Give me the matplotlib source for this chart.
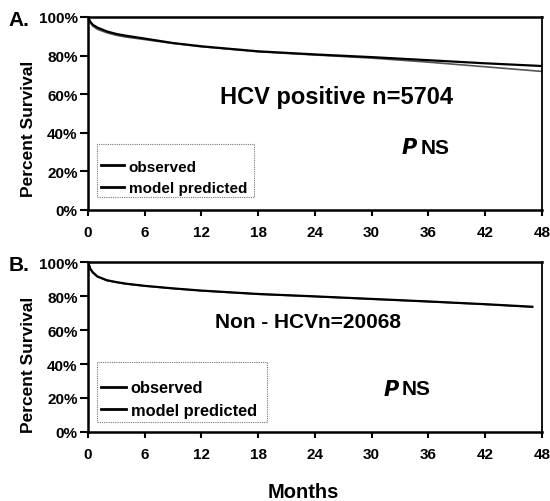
import matplotlib
matplotlib.use("Agg")
import matplotlib.pyplot as plt
from matplotlib.ticker import FuncFormatter
from matplotlib.patches import Rectangle

plt.rcParams['font.family'] = ['Liberation Sans', 'DejaVu Sans']
plt.rcParams['font.weight'] = 'bold'

months = [0, 0.25, 0.5, 1, 2, 3, 4, 6, 9, 12, 18, 24, 30, 36, 42, 48]
a_observed = [100, 97.5, 96.0, 94.5, 92.5, 91.2, 90.3, 88.8, 86.5, 84.8, 82.2, 80.6, 79.2, 77.6, 76.0, 74.6]
a_predicted = [100, 97.0, 95.3, 93.6, 91.8, 90.5, 89.6, 88.3, 86.3, 84.6, 82.0, 80.3, 78.7, 76.6, 74.2, 71.8]

months_b = [0, 0.25, 0.5, 1, 2, 3, 4, 6, 9, 12, 18, 24, 30, 36, 42, 47]
b_observed = [100, 96.0, 94.0, 91.5, 89.3, 88.2, 87.3, 86.0, 84.5, 83.2, 81.2, 79.8, 78.3, 76.8, 75.2, 73.7]
b_predicted = [100, 95.8, 93.8, 91.3, 89.1, 88.0, 87.1, 85.9, 84.4, 83.1, 81.1, 79.7, 78.2, 76.7, 75.1, 73.5]

xticks = [0, 6, 12, 18, 24, 30, 36, 42, 48]
yticks = [0, 20, 40, 60, 80, 100]

fig = plt.figure(figsize=(5.5, 5.02), dpi=100)
axA = fig.add_axes([0.16, 0.5797, 0.825, 0.3845])
axB = fig.add_axes([0.16, 0.1375, 0.825, 0.3385])

panels = [
    dict(ax=axA, mx=months, obs=a_observed, pred=a_predicted, lab="A.", title="HCV positive n=5704",
         tpos=(0.548, 0.59), tsize=17, ppos=(0.727, 0.326), ylab_y=0.425,
         rect=(0.02, 0.067, 0.346, 0.275), lcen=0.1685, lsize=11, lspace=0.5),
    dict(ax=axB, mx=months_b, obs=b_observed, pred=b_predicted, lab="B.", title="Non - HCVn=20068",
         tpos=(0.485, 0.653), tsize=15, ppos=(0.687, 0.253), ylab_y=0.40,
         rect=(0.02, 0.059, 0.374, 0.353), lcen=0.1945, lsize=11.8, lspace=0.45),
]

for p in panels:
    ax = p['ax']
    ax.plot(p['mx'], p['pred'], color='#555555', lw=1.2, label='model predicted', zorder=2)
    ax.plot(p['mx'], p['obs'], color='black', lw=1.6, label='observed', zorder=3)
    ax.set_xlim(0, 48)
    ax.set_ylim(0, 100)
    ax.set_xticks(xticks)
    ax.set_yticks(yticks)
    ax.yaxis.set_major_formatter(FuncFormatter(lambda v, pos: f"{int(v)}%"))
    ax.tick_params(axis='x', direction='out', length=4, width=1.5, labelsize=11, pad=7)
    ax.tick_params(axis='y', direction='out', length=6, width=1.5, labelsize=11, pad=1.5)
    for t in ax.get_xticklabels() + ax.get_yticklabels():
        t.set_fontweight('bold')
    for s in ['left', 'bottom', 'top']:
        ax.spines[s].set_linewidth(1.8)
    ax.spines['right'].set_linewidth(1.3)
    ax.set_ylabel('Percent Survival', fontsize=12.5, fontweight='bold')
    ax.yaxis.set_label_coords(-0.114, p['ylab_y'])
    ax.text(*p['tpos'], p['title'], transform=ax.transAxes, ha='center', va='center',
            fontsize=p['tsize'], fontweight='bold')
    px, py = p['ppos']
    ax.text(px, py, r"$\boldsymbol{P}$", transform=ax.transAxes, ha='right', va='center', fontsize=15)
    ax.text(px + 0.005, py, "NS", transform=ax.transAxes, ha='left', va='center',
            fontsize=15, fontweight='bold')
    fig.text(0.015, ax.get_position().y1 - 0.005, p['lab'], ha='left', va='center',
             fontsize=15, fontweight='bold')
    rx, ry, rw, rh = p['rect']
    ax.add_patch(Rectangle((rx, ry), rw, rh, transform=ax.transAxes, fill=False,
                           edgecolor='#777777', linestyle=(0, (1, 1)), linewidth=0.8, zorder=4))
    handles, labels = ax.get_legend_handles_labels()
    leg = ax.legend([handles[1], handles[0]], [labels[1], labels[0]], loc='center left',
                    bbox_to_anchor=(0.029, p['lcen']), frameon=False,
                    prop={'weight': 'bold', 'size': p['lsize']}, handlelength=1.5,
                    handletextpad=0.3, borderpad=0, labelspacing=p['lspace'],
                    borderaxespad=0)
    for l in leg.get_lines():
        l.set_color('black')
        l.set_linewidth(2)

fig.text(0.551, 0.018, 'Months', ha='center', va='center', fontsize=14.5, fontweight='bold')

fig.savefig('out.png', dpi=100)
